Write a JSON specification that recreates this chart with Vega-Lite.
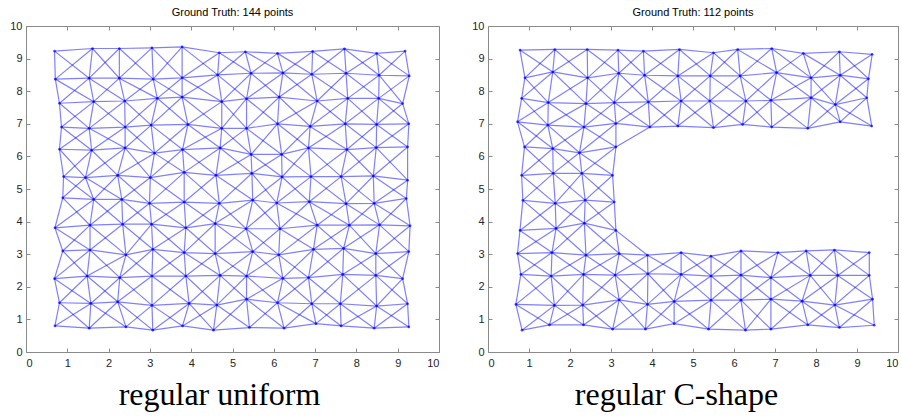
{
  "$schema": "https://vega.github.io/schema/vega-lite/v6.json",
  "background": "white",
  "padding": {"left": 9, "top": 6, "right": 5, "bottom": 5},
  "bounds": "flush",
  "spacing": 49,
  "datasets": {
    "uniform": [
      {"r":1,"c":1,"x":0.69,"y":9.23,"d":0,"a":2},{"r":1,"c":2,"x":1.61,"y":9.31,"d":1,"a":3},{"r":1,"c":3,"x":2.26,"y":9.31,"d":2,"a":4},{"r":1,"c":4,"x":3.05,"y":9.33,"d":3,"a":5},{"r":1,"c":5,"x":3.78,"y":9.36,"d":4,"a":6},{"r":1,"c":6,"x":4.68,"y":9.18,"d":5,"a":7},{"r":1,"c":7,"x":5.31,"y":9.21,"d":6,"a":8},{"r":1,"c":8,"x":6.09,"y":9.16,"d":7,"a":9},{"r":1,"c":9,"x":6.94,"y":9.22,"d":8,"a":10},{"r":1,"c":10,"x":7.71,"y":9.30,"d":9,"a":11},{"r":1,"c":11,"x":8.49,"y":9.16,"d":10,"a":12},{"r":1,"c":12,"x":9.18,"y":9.23,"d":11,"a":13},
      {"r":2,"c":1,"x":0.71,"y":8.37,"d":-1,"a":3},{"r":2,"c":2,"x":1.53,"y":8.40,"d":0,"a":4},{"r":2,"c":3,"x":2.26,"y":8.40,"d":1,"a":5},{"r":2,"c":4,"x":3.08,"y":8.37,"d":2,"a":6},{"r":2,"c":5,"x":3.78,"y":8.41,"d":3,"a":7},{"r":2,"c":6,"x":4.64,"y":8.50,"d":4,"a":8},{"r":2,"c":7,"x":5.45,"y":8.55,"d":5,"a":9},{"r":2,"c":8,"x":6.22,"y":8.56,"d":6,"a":10},{"r":2,"c":9,"x":6.92,"y":8.52,"d":7,"a":11},{"r":2,"c":10,"x":7.75,"y":8.55,"d":8,"a":12},{"r":2,"c":11,"x":8.55,"y":8.49,"d":9,"a":13},{"r":2,"c":12,"x":9.28,"y":8.47,"d":10,"a":14},
      {"r":3,"c":1,"x":0.81,"y":7.63,"d":-2,"a":4},{"r":3,"c":2,"x":1.64,"y":7.68,"d":-1,"a":5},{"r":3,"c":3,"x":2.39,"y":7.70,"d":0,"a":6},{"r":3,"c":4,"x":3.18,"y":7.78,"d":1,"a":7},{"r":3,"c":5,"x":3.78,"y":7.82,"d":2,"a":8},{"r":3,"c":6,"x":4.74,"y":7.68,"d":3,"a":9},{"r":3,"c":7,"x":5.34,"y":7.77,"d":4,"a":10},{"r":3,"c":8,"x":6.13,"y":7.82,"d":5,"a":11},{"r":3,"c":9,"x":7.05,"y":7.70,"d":6,"a":12},{"r":3,"c":10,"x":7.79,"y":7.78,"d":7,"a":13},{"r":3,"c":11,"x":8.54,"y":7.78,"d":8,"a":14},{"r":3,"c":12,"x":9.12,"y":7.62,"d":9,"a":15},
      {"r":4,"c":1,"x":0.86,"y":6.90,"d":-3,"a":5},{"r":4,"c":2,"x":1.53,"y":6.86,"d":-2,"a":6},{"r":4,"c":3,"x":2.40,"y":6.90,"d":-1,"a":7},{"r":4,"c":4,"x":3.03,"y":6.96,"d":0,"a":8},{"r":4,"c":5,"x":3.92,"y":6.98,"d":1,"a":9},{"r":4,"c":6,"x":4.74,"y":6.86,"d":2,"a":10},{"r":4,"c":7,"x":5.34,"y":6.86,"d":3,"a":11},{"r":4,"c":8,"x":6.09,"y":7.00,"d":4,"a":12},{"r":4,"c":9,"x":6.88,"y":6.92,"d":5,"a":13},{"r":4,"c":10,"x":7.73,"y":7.00,"d":6,"a":14},{"r":4,"c":11,"x":8.49,"y":6.98,"d":7,"a":15},{"r":4,"c":12,"x":9.27,"y":7.00,"d":8,"a":16},
      {"r":5,"c":1,"x":0.81,"y":6.22,"d":-4,"a":6},{"r":5,"c":2,"x":1.59,"y":6.19,"d":-3,"a":7},{"r":5,"c":3,"x":2.40,"y":6.26,"d":-2,"a":8},{"r":5,"c":4,"x":3.11,"y":6.10,"d":-1,"a":9},{"r":5,"c":5,"x":3.79,"y":6.21,"d":0,"a":10},{"r":5,"c":6,"x":4.70,"y":6.26,"d":1,"a":11},{"r":5,"c":7,"x":5.45,"y":6.06,"d":2,"a":12},{"r":5,"c":8,"x":6.19,"y":6.06,"d":3,"a":13},{"r":5,"c":9,"x":6.84,"y":6.26,"d":4,"a":14},{"r":5,"c":10,"x":7.77,"y":6.21,"d":5,"a":15},{"r":5,"c":11,"x":8.48,"y":6.27,"d":6,"a":16},{"r":5,"c":12,"x":9.24,"y":6.29,"d":7,"a":17},
      {"r":6,"c":1,"x":0.91,"y":5.38,"d":-5,"a":7},{"r":6,"c":2,"x":1.44,"y":5.35,"d":-4,"a":8},{"r":6,"c":3,"x":2.22,"y":5.42,"d":-3,"a":9},{"r":6,"c":4,"x":3.01,"y":5.35,"d":-2,"a":10},{"r":6,"c":5,"x":3.83,"y":5.51,"d":-1,"a":11},{"r":6,"c":6,"x":4.60,"y":5.42,"d":0,"a":12},{"r":6,"c":7,"x":5.47,"y":5.48,"d":1,"a":13},{"r":6,"c":8,"x":6.20,"y":5.37,"d":2,"a":14},{"r":6,"c":9,"x":6.90,"y":5.38,"d":3,"a":15},{"r":6,"c":10,"x":7.63,"y":5.38,"d":4,"a":16},{"r":6,"c":11,"x":8.41,"y":5.40,"d":5,"a":17},{"r":6,"c":12,"x":9.24,"y":5.27,"d":6,"a":18},
      {"r":7,"c":1,"x":0.89,"y":4.73,"d":-6,"a":8},{"r":7,"c":2,"x":1.64,"y":4.68,"d":-5,"a":9},{"r":7,"c":3,"x":2.32,"y":4.68,"d":-4,"a":10},{"r":7,"c":4,"x":2.99,"y":4.56,"d":-3,"a":11},{"r":7,"c":5,"x":3.83,"y":4.60,"d":-2,"a":12},{"r":7,"c":6,"x":4.68,"y":4.56,"d":-1,"a":13},{"r":7,"c":7,"x":5.49,"y":4.66,"d":0,"a":14},{"r":7,"c":8,"x":6.07,"y":4.57,"d":1,"a":15},{"r":7,"c":9,"x":6.86,"y":4.61,"d":2,"a":16},{"r":7,"c":10,"x":7.75,"y":4.55,"d":3,"a":17},{"r":7,"c":11,"x":8.43,"y":4.56,"d":4,"a":18},{"r":7,"c":12,"x":9.21,"y":4.71,"d":5,"a":19},
      {"r":8,"c":1,"x":0.70,"y":3.81,"d":-7,"a":9},{"r":8,"c":2,"x":1.55,"y":3.89,"d":-6,"a":10},{"r":8,"c":3,"x":2.34,"y":3.92,"d":-5,"a":11},{"r":8,"c":4,"x":3.04,"y":3.92,"d":-4,"a":12},{"r":8,"c":5,"x":3.87,"y":3.81,"d":-3,"a":13},{"r":8,"c":6,"x":4.58,"y":3.94,"d":-2,"a":14},{"r":8,"c":7,"x":5.33,"y":3.78,"d":-1,"a":15},{"r":8,"c":8,"x":6.15,"y":3.78,"d":0,"a":16},{"r":8,"c":9,"x":7.05,"y":3.89,"d":1,"a":17},{"r":8,"c":10,"x":7.83,"y":3.89,"d":2,"a":18},{"r":8,"c":11,"x":8.56,"y":3.90,"d":3,"a":19},{"r":8,"c":12,"x":9.30,"y":3.87,"d":4,"a":20},
      {"r":9,"c":1,"x":0.89,"y":3.10,"d":-8,"a":10},{"r":9,"c":2,"x":1.55,"y":3.13,"d":-7,"a":11},{"r":9,"c":3,"x":2.42,"y":2.98,"d":-6,"a":12},{"r":9,"c":4,"x":3.07,"y":3.15,"d":-5,"a":13},{"r":9,"c":5,"x":3.83,"y":3.05,"d":-4,"a":14},{"r":9,"c":6,"x":4.58,"y":3.02,"d":-3,"a":15},{"r":9,"c":7,"x":5.49,"y":3.08,"d":-2,"a":16},{"r":9,"c":8,"x":6.12,"y":2.98,"d":-1,"a":17},{"r":9,"c":9,"x":6.96,"y":3.15,"d":0,"a":18},{"r":9,"c":10,"x":7.69,"y":3.18,"d":1,"a":19},{"r":9,"c":11,"x":8.47,"y":3.02,"d":2,"a":20},{"r":9,"c":12,"x":9.27,"y":3.08,"d":3,"a":21},
      {"r":10,"c":1,"x":0.69,"y":2.25,"d":-9,"a":11},{"r":10,"c":2,"x":1.48,"y":2.33,"d":-8,"a":12},{"r":10,"c":3,"x":2.27,"y":2.28,"d":-7,"a":13},{"r":10,"c":4,"x":3.05,"y":2.33,"d":-6,"a":14},{"r":10,"c":5,"x":3.87,"y":2.33,"d":-5,"a":15},{"r":10,"c":6,"x":4.70,"y":2.35,"d":-4,"a":16},{"r":10,"c":7,"x":5.34,"y":2.33,"d":-3,"a":17},{"r":10,"c":8,"x":6.22,"y":2.26,"d":-2,"a":18},{"r":10,"c":9,"x":6.84,"y":2.28,"d":-1,"a":19},{"r":10,"c":10,"x":7.67,"y":2.38,"d":0,"a":20},{"r":10,"c":11,"x":8.47,"y":2.35,"d":1,"a":21},{"r":10,"c":12,"x":9.12,"y":2.25,"d":2,"a":22},
      {"r":11,"c":1,"x":0.81,"y":1.51,"d":-10,"a":12},{"r":11,"c":2,"x":1.57,"y":1.49,"d":-9,"a":13},{"r":11,"c":3,"x":2.22,"y":1.54,"d":-8,"a":14},{"r":11,"c":4,"x":3.05,"y":1.43,"d":-7,"a":15},{"r":11,"c":5,"x":3.95,"y":1.49,"d":-6,"a":16},{"r":11,"c":6,"x":4.62,"y":1.44,"d":-5,"a":17},{"r":11,"c":7,"x":5.34,"y":1.62,"d":-4,"a":18},{"r":11,"c":8,"x":6.09,"y":1.51,"d":-3,"a":19},{"r":11,"c":9,"x":6.92,"y":1.48,"d":-2,"a":20},{"r":11,"c":10,"x":7.61,"y":1.48,"d":-1,"a":21},{"r":11,"c":11,"x":8.49,"y":1.41,"d":0,"a":22},{"r":11,"c":12,"x":9.24,"y":1.48,"d":1,"a":23},
      {"r":12,"c":1,"x":0.70,"y":0.80,"d":-11,"a":13},{"r":12,"c":2,"x":1.53,"y":0.73,"d":-10,"a":14},{"r":12,"c":3,"x":2.42,"y":0.77,"d":-9,"a":15},{"r":12,"c":4,"x":3.07,"y":0.67,"d":-8,"a":16},{"r":12,"c":5,"x":3.79,"y":0.80,"d":-7,"a":17},{"r":12,"c":6,"x":4.54,"y":0.67,"d":-6,"a":18},{"r":12,"c":7,"x":5.41,"y":0.75,"d":-5,"a":19},{"r":12,"c":8,"x":6.25,"y":0.73,"d":-4,"a":20},{"r":12,"c":9,"x":7.02,"y":0.87,"d":-3,"a":21},{"r":12,"c":10,"x":7.63,"y":0.80,"d":-2,"a":22},{"r":12,"c":11,"x":8.43,"y":0.73,"d":-1,"a":23},{"r":12,"c":12,"x":9.27,"y":0.77,"d":0,"a":24}
    ],
    "cshape": [
      {"r":1,"c":1,"x":0.78,"y":9.26,"v":"1","d":"0u","a":"2"},{"r":1,"c":2,"x":1.63,"y":9.28,"v":"2","d":"1u","a":"3"},{"r":1,"c":3,"x":2.42,"y":9.28,"v":"3","d":"2u","a":"4"},{"r":1,"c":4,"x":3.17,"y":9.26,"v":"4","d":"3u","a":"5"},{"r":1,"c":5,"x":3.79,"y":9.23,"v":"5u","d":"4u","a":"6"},{"r":1,"c":6,"x":4.67,"y":9.28,"v":"6u","d":"5u","a":"7"},{"r":1,"c":7,"x":5.50,"y":9.18,"v":"7u","d":"6u","a":"8"},{"r":1,"c":8,"x":6.09,"y":9.28,"v":"8u","d":"7u","a":"9"},{"r":1,"c":9,"x":6.92,"y":9.31,"v":"9u","d":"8u","a":"10u"},{"r":1,"c":10,"x":7.69,"y":9.16,"v":"10u","d":"9u","a":"11u"},{"r":1,"c":11,"x":8.57,"y":9.21,"v":"11u","d":"10u","a":"12u"},{"r":1,"c":12,"x":9.37,"y":9.13,"v":"12u","d":"11u","a":"13u"},
      {"r":2,"c":1,"x":0.90,"y":8.41,"v":"1","d":"-1u","a":"3"},{"r":2,"c":2,"x":1.58,"y":8.59,"v":"2","d":"0u","a":"4"},{"r":2,"c":3,"x":2.43,"y":8.41,"v":"3","d":"1u","a":"5"},{"r":2,"c":4,"x":3.19,"y":8.55,"v":"4","d":"2u","a":"6"},{"r":2,"c":5,"x":3.82,"y":8.49,"v":"5u","d":"3u","a":"7"},{"r":2,"c":6,"x":4.63,"y":8.47,"v":"6u","d":"4u","a":"8"},{"r":2,"c":7,"x":5.42,"y":8.47,"v":"7u","d":"5u","a":"9"},{"r":2,"c":8,"x":6.15,"y":8.47,"v":"8u","d":"6u","a":"10u"},{"r":2,"c":9,"x":7.04,"y":8.57,"v":"9u","d":"7u","a":"11u"},{"r":2,"c":10,"x":7.88,"y":8.41,"v":"10u","d":"8u","a":"12u"},{"r":2,"c":11,"x":8.59,"y":8.49,"v":"11u","d":"9u","a":"13u"},{"r":2,"c":12,"x":9.28,"y":8.38,"v":"12u","d":"10u","a":"14u"},
      {"r":3,"c":1,"x":0.82,"y":7.78,"v":"1","d":"-2u","a":"4"},{"r":3,"c":2,"x":1.47,"y":7.65,"v":"2","d":"-1u","a":"5"},{"r":3,"c":3,"x":2.39,"y":7.62,"v":"3","d":"0u","a":"6"},{"r":3,"c":4,"x":3.08,"y":7.65,"v":"4","d":"1u","a":"7"},{"r":3,"c":5,"x":3.91,"y":7.67,"v":"5u","d":"2u","a":"8"},{"r":3,"c":6,"x":4.71,"y":7.70,"v":"6u","d":"3u","a":"9"},{"r":3,"c":7,"x":5.41,"y":7.70,"v":"7u","d":"4u","a":"10u"},{"r":3,"c":8,"x":6.29,"y":7.70,"v":"8u","d":"5u","a":"11u"},{"r":3,"c":9,"x":6.90,"y":7.72,"v":"9u","d":"6u","a":"12u"},{"r":3,"c":10,"x":7.88,"y":7.80,"v":"10u","d":"7u","a":"13u"},{"r":3,"c":11,"x":8.47,"y":7.59,"v":"11u","d":"8u","a":"14u"},{"r":3,"c":12,"x":9.24,"y":7.80,"v":"12u","d":"9u","a":"15u"},
      {"r":4,"c":1,"x":0.72,"y":7.06,"v":"1","d":"-3u","a":"5"},{"r":4,"c":2,"x":1.46,"y":6.96,"v":"2","d":"-2u","a":"6"},{"r":4,"c":3,"x":2.34,"y":6.90,"v":"3","d":"-1u","a":"7"},{"r":4,"c":4,"x":3.12,"y":7.01,"v":"4","d":"0u","a":"8"},{"r":4,"c":5,"x":3.95,"y":6.90,"v":"5u","d":"1u","a":"9"},{"r":4,"c":6,"x":4.63,"y":6.93,"v":"6u","d":"2u","a":"10u"},{"r":4,"c":7,"x":5.50,"y":6.88,"v":"7u","d":"3u","a":"11u"},{"r":4,"c":8,"x":6.21,"y":6.98,"v":"8u","d":"4u","a":"12u"},{"r":4,"c":9,"x":6.92,"y":6.90,"v":"9u","d":"5u","a":"13u"},{"r":4,"c":10,"x":7.80,"y":6.86,"v":"10u","d":"6u","a":"14u"},{"r":4,"c":11,"x":8.59,"y":7.06,"v":"11u","d":"7u","a":"15u"},{"r":4,"c":12,"x":9.36,"y":6.93,"v":"12u","d":"8u","a":"16u"},
      {"r":5,"c":1,"x":0.89,"y":6.29,"v":"1","d":"-4","a":"6"},{"r":5,"c":2,"x":1.58,"y":6.24,"v":"2","d":"-3u","a":"7"},{"r":5,"c":3,"x":2.23,"y":6.11,"v":"3","d":"-2u","a":"8"},{"r":5,"c":4,"x":3.12,"y":6.29,"v":"4","d":"-1u","a":"9"},
      {"r":6,"c":1,"x":0.82,"y":5.42,"v":"1","d":"-5","a":"7"},{"r":6,"c":2,"x":1.59,"y":5.48,"v":"2","d":"-4","a":"8"},{"r":6,"c":3,"x":2.29,"y":5.48,"v":"3","d":"-3u","a":"9"},{"r":6,"c":4,"x":3.04,"y":5.42,"v":"4","d":"-2u","a":"10l"},
      {"r":7,"c":1,"x":0.85,"y":4.65,"v":"1","d":"-6","a":"8"},{"r":7,"c":2,"x":1.64,"y":4.56,"v":"2","d":"-5","a":"9"},{"r":7,"c":3,"x":2.37,"y":4.66,"v":"3","d":"-4","a":"10l"},{"r":7,"c":4,"x":3.08,"y":4.60,"v":"4","d":"-3u","a":"11l"},
      {"r":8,"c":1,"x":0.78,"y":3.73,"v":"1","d":"-7","a":"9"},{"r":8,"c":2,"x":1.66,"y":3.79,"v":"2","d":"-6","a":"10l"},{"r":8,"c":3,"x":2.35,"y":3.95,"v":"3","d":"-5","a":"11l"},{"r":8,"c":4,"x":3.12,"y":3.73,"v":"4","d":"-4","a":"12l"},
      {"r":9,"c":1,"x":0.72,"y":3.02,"v":"1","d":"-8","a":"10l"},{"r":9,"c":2,"x":1.56,"y":3.05,"v":"2","d":"-7","a":"11l"},{"r":9,"c":3,"x":2.39,"y":2.97,"v":"3","d":"-6","a":"12l"},{"r":9,"c":4,"x":3.20,"y":3.02,"v":"4","d":"-5","a":"13l"},{"r":9,"c":5,"x":3.89,"y":2.97,"v":"5l","d":"-4","a":"14l"},{"r":9,"c":6,"x":4.71,"y":3.05,"v":"6l","d":"-3l","a":"15l"},{"r":9,"c":7,"x":5.44,"y":2.94,"v":"7l","d":"-2l","a":"16l"},{"r":9,"c":8,"x":6.17,"y":3.10,"v":"8l","d":"-1l","a":"17l"},{"r":9,"c":9,"x":7.07,"y":3.05,"v":"9l","d":"0l","a":"18l"},{"r":9,"c":10,"x":7.76,"y":3.10,"v":"10l","d":"1l","a":"19l"},{"r":9,"c":11,"x":8.45,"y":3.13,"v":"11l","d":"2l","a":"20l"},{"r":9,"c":12,"x":9.30,"y":3.05,"v":"12l","d":"3l","a":"21l"},
      {"r":10,"c":1,"x":0.80,"y":2.38,"v":"1","d":"-9","a":"11l"},{"r":10,"c":2,"x":1.54,"y":2.33,"v":"2","d":"-8","a":"12l"},{"r":10,"c":3,"x":2.33,"y":2.38,"v":"3","d":"-7","a":"13l"},{"r":10,"c":4,"x":3.10,"y":2.36,"v":"4","d":"-6","a":"14l"},{"r":10,"c":5,"x":3.90,"y":2.40,"v":"5l","d":"-5","a":"15l"},{"r":10,"c":6,"x":4.71,"y":2.38,"v":"6l","d":"-4","a":"16l"},{"r":10,"c":7,"x":5.44,"y":2.33,"v":"7l","d":"-3l","a":"17l"},{"r":10,"c":8,"x":6.17,"y":2.36,"v":"8l","d":"-2l","a":"18l"},{"r":10,"c":9,"x":6.90,"y":2.28,"v":"9l","d":"-1l","a":"19l"},{"r":10,"c":10,"x":7.86,"y":2.35,"v":"10l","d":"0l","a":"20l"},{"r":10,"c":11,"x":8.53,"y":2.35,"v":"11l","d":"1l","a":"21l"},{"r":10,"c":12,"x":9.30,"y":2.35,"v":"12l","d":"2l","a":"22l"},
      {"r":11,"c":1,"x":0.68,"y":1.46,"v":"1","d":"-10","a":"12l"},{"r":11,"c":2,"x":1.62,"y":1.43,"v":"2","d":"-9","a":"13l"},{"r":11,"c":3,"x":2.31,"y":1.44,"v":"3","d":"-8","a":"14l"},{"r":11,"c":4,"x":3.20,"y":1.60,"v":"4","d":"-7","a":"15l"},{"r":11,"c":5,"x":3.89,"y":1.46,"v":"5l","d":"-6","a":"16l"},{"r":11,"c":6,"x":4.54,"y":1.55,"v":"6l","d":"-5","a":"17l"},{"r":11,"c":7,"x":5.44,"y":1.59,"v":"7l","d":"-4","a":"18l"},{"r":11,"c":8,"x":6.17,"y":1.59,"v":"8l","d":"-3l","a":"19l"},{"r":11,"c":9,"x":6.90,"y":1.62,"v":"9l","d":"-2l","a":"20l"},{"r":11,"c":10,"x":7.66,"y":1.56,"v":"10l","d":"-1l","a":"21l"},{"r":11,"c":11,"x":8.46,"y":1.44,"v":"11l","d":"0l","a":"22l"},{"r":11,"c":12,"x":9.38,"y":1.62,"v":"12l","d":"1l","a":"23l"},
      {"r":12,"c":1,"x":0.83,"y":0.67,"v":"1","d":"-11","a":"13l"},{"r":12,"c":2,"x":1.50,"y":0.83,"v":"2","d":"-10","a":"14l"},{"r":12,"c":3,"x":2.33,"y":0.83,"v":"3","d":"-9","a":"15l"},{"r":12,"c":4,"x":3.04,"y":0.70,"v":"4","d":"-8","a":"16l"},{"r":12,"c":5,"x":3.84,"y":0.70,"v":"5l","d":"-7","a":"17l"},{"r":12,"c":6,"x":4.54,"y":0.87,"v":"6l","d":"-6","a":"18l"},{"r":12,"c":7,"x":5.38,"y":0.70,"v":"7l","d":"-5","a":"19l"},{"r":12,"c":8,"x":6.28,"y":0.67,"v":"8l","d":"-4","a":"20l"},{"r":12,"c":9,"x":6.90,"y":0.70,"v":"9l","d":"-3l","a":"21l"},{"r":12,"c":10,"x":7.80,"y":0.83,"v":"10l","d":"-2l","a":"22l"},{"r":12,"c":11,"x":8.57,"y":0.75,"v":"11l","d":"-1l","a":"23l"},{"r":12,"c":12,"x":9.42,"y":0.82,"v":"12l","d":"0l","a":"24l"}
    ]
  },
  "hconcat": [
    {
      "width": 413,
      "height": 326,
      "title": "Ground Truth: 144 points",
      "data": {"name": "uniform"},
      "layer": [
        {
          "mark": {"type": "line", "color": "#0000ff", "strokeWidth": 1.2, "opacity": 0.5},
          "encoding": {
            "x": {"field": "x", "type": "quantitative", "scale": {"domain": [0, 10], "nice": false, "zero": false},
                  "axis": {"orient": "bottom", "values": [0,1,2,3,4,5,6,7,8,9,10], "format": "d", "labelPadding": 9,
                           "title": "regular uniform", "titleFont": "Liberation Serif", "titleFontSize": 32, "titleFontWeight": "normal",
                           "titleColor": "#000000", "titleX": 193, "titleY": 52, "titleBaseline": "alphabetic"}},
            "y": {"field": "y", "type": "quantitative", "scale": {"domain": [0, 10], "nice": false, "zero": false},
                  "axis": {"orient": "left", "values": [0,1,2,3,4,5,6,7,8,9,10], "format": "d", "labelPadding": 8, "title": null}},
            "detail": {"field": "r", "type": "nominal"},
            "order": {"field": "c", "type": "quantitative"}
          }
        },
        {
          "mark": {"type": "line", "color": "#0000ff", "strokeWidth": 1.2, "opacity": 0.5},
          "encoding": {
            "x": {"field": "x", "type": "quantitative", "axis": {"orient": "top", "values": [0,1,2,3,4,5,6,7,8,9,10], "labels": false, "title": null}},
            "y": {"field": "y", "type": "quantitative", "axis": {"orient": "right", "values": [0,1,2,3,4,5,6,7,8,9,10], "labels": false, "title": null}},
            "detail": {"field": "c", "type": "nominal"},
            "order": {"field": "r", "type": "quantitative"}
          }
        },
        {
          "mark": {"type": "line", "color": "#0000ff", "strokeWidth": 1.2, "opacity": 0.5},
          "encoding": {
            "x": {"field": "x", "type": "quantitative", "axis": null},
            "y": {"field": "y", "type": "quantitative", "axis": null},
            "detail": {"field": "d", "type": "nominal"},
            "order": {"field": "r", "type": "quantitative"}
          }
        },
        {
          "mark": {"type": "line", "color": "#0000ff", "strokeWidth": 1.2, "opacity": 0.5},
          "encoding": {
            "x": {"field": "x", "type": "quantitative", "axis": null},
            "y": {"field": "y", "type": "quantitative", "axis": null},
            "detail": {"field": "a", "type": "nominal"},
            "order": {"field": "r", "type": "quantitative"}
          }
        },
        {
          "mark": {"type": "circle", "color": "#0000ff", "size": 7, "opacity": 0.7},
          "encoding": {
            "x": {"field": "x", "type": "quantitative", "axis": null},
            "y": {"field": "y", "type": "quantitative", "axis": null}
          }
        }
      ],
      "resolve": {"axis": {"x": "independent", "y": "independent"}}
    },
    {
      "width": 410,
      "height": 326,
      "title": "Ground Truth: 112 points",
      "data": {"name": "cshape"},
      "layer": [
        {
          "mark": {"type": "line", "color": "#0000ff", "strokeWidth": 1.2, "opacity": 0.5},
          "encoding": {
            "x": {"field": "x", "type": "quantitative", "scale": {"domain": [0, 10], "nice": false, "zero": false},
                  "axis": {"orient": "bottom", "values": [0,1,2,3,4,5,6,7,8,9,10], "format": "d", "labelPadding": 9,
                           "title": "regular C-shape", "titleFont": "Liberation Serif", "titleFontSize": 32, "titleFontWeight": "normal",
                           "titleColor": "#000000", "titleX": 188, "titleY": 52, "titleBaseline": "alphabetic"}},
            "y": {"field": "y", "type": "quantitative", "scale": {"domain": [0, 10], "nice": false, "zero": false},
                  "axis": {"orient": "left", "values": [0,1,2,3,4,5,6,7,8,9,10], "format": "d", "labelPadding": 8, "title": null}},
            "detail": {"field": "r", "type": "nominal"},
            "order": {"field": "c", "type": "quantitative"}
          }
        },
        {
          "mark": {"type": "line", "color": "#0000ff", "strokeWidth": 1.2, "opacity": 0.5},
          "encoding": {
            "x": {"field": "x", "type": "quantitative", "axis": {"orient": "top", "values": [0,1,2,3,4,5,6,7,8,9,10], "labels": false, "title": null}},
            "y": {"field": "y", "type": "quantitative", "axis": {"orient": "right", "values": [0,1,2,3,4,5,6,7,8,9,10], "labels": false, "title": null}},
            "detail": {"field": "v", "type": "nominal"},
            "order": {"field": "r", "type": "quantitative"}
          }
        },
        {
          "mark": {"type": "line", "color": "#0000ff", "strokeWidth": 1.2, "opacity": 0.5},
          "encoding": {
            "x": {"field": "x", "type": "quantitative", "axis": null},
            "y": {"field": "y", "type": "quantitative", "axis": null},
            "detail": {"field": "d", "type": "nominal"},
            "order": {"field": "r", "type": "quantitative"}
          }
        },
        {
          "mark": {"type": "line", "color": "#0000ff", "strokeWidth": 1.2, "opacity": 0.5},
          "encoding": {
            "x": {"field": "x", "type": "quantitative", "axis": null},
            "y": {"field": "y", "type": "quantitative", "axis": null},
            "detail": {"field": "a", "type": "nominal"},
            "order": {"field": "r", "type": "quantitative"}
          }
        },
        {
          "mark": {"type": "circle", "color": "#0000ff", "size": 7, "opacity": 0.7},
          "encoding": {
            "x": {"field": "x", "type": "quantitative", "axis": null},
            "y": {"field": "y", "type": "quantitative", "axis": null}
          }
        }
      ],
      "resolve": {"axis": {"x": "independent", "y": "independent"}}
    }
  ],
  "config": {
    "view": {"stroke": "#8a8a8a", "strokeWidth": 1},
    "axis": {"domain": false, "grid": false, "tickSize": -4, "tickColor": "#8a8a8a", "tickWidth": 1,
             "labelFont": "Liberation Sans", "labelFontSize": 11, "labelColor": "#262626"},
    "title": {"font": "Liberation Sans", "fontSize": 11, "fontWeight": "normal", "color": "#000000", "offset": 2}
  }
}
